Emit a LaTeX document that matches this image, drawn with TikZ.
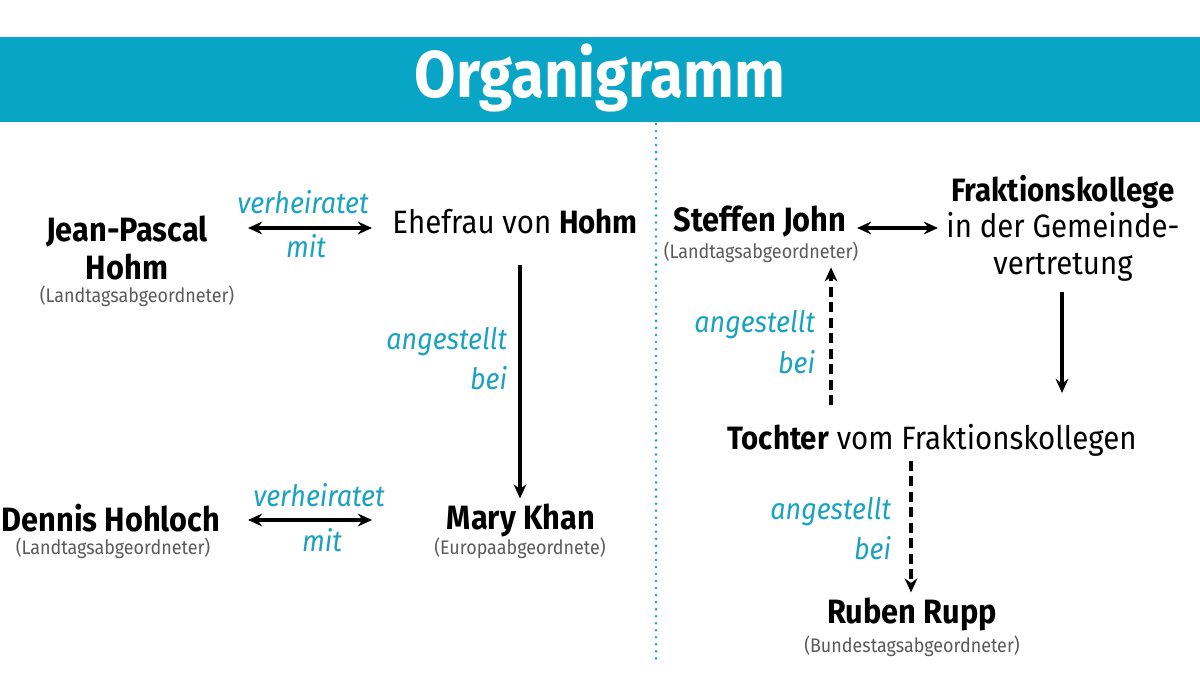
\documentclass[tikz,border=0pt]{standalone}
\usepackage{fontspec}
\setmainfont{Fira Sans}[FakeStretch=0.91]
\usepackage{tikz}
\usetikzlibrary{arrows.meta}
\definecolor{orgaBlue}{HTML}{08A5C6}
\definecolor{orgaText}{HTML}{1BA2C0}
\definecolor{orgaGray}{HTML}{5A5A5A}

\begin{document}
\begin{tikzpicture}[x=0.025cm, y=-0.025cm,
    person/.style={font=\fontsize{24}{27}\selectfont\bfseries, align=center},
    plain/.style={font=\fontsize{23}{27}\selectfont, align=center},
    office/.style={font=\fontsize{14}{16}\selectfont, text=orgaGray},
    relation/.style={font=\fontsize{21}{25}\selectfont\itshape, text=orgaText},
    link/.style={line width=2.5pt, -{Stealth[length=10pt,width=9pt]}},
    both/.style={line width=2.5pt, {Stealth[length=10pt,width=9pt]}-{Stealth[length=10pt,width=9pt]}},
    loose/.style={line width=2.5pt, dash pattern=on 7pt off 4pt, -{Stealth[length=10pt,width=9pt]}}]
    \useasboundingbox (0,0) rectangle (1200,675);
    \fill[orgaBlue] (0,37) rectangle (1200,122);
    \node[font=\fontsize{47}{50}\selectfont\bfseries, text=white] (title) at (600,78) {Organigramm};
    \draw[orgaBlue, line width=2pt, line cap=round, dash pattern=on 0pt off 5pt] (656,124) -- (656,660);
    % linke Seite
    \node[person] (jp) at (127,248) {Jean-Pascal\\Hohm};
    \node[office] (jpsub) at (137,296) {(Landtagsabgeordneter)};
    \node[plain] (wife) at (515,222) {Ehefrau von \textbf{Hohm}};
    \node[person] (mk) at (521,520) {Mary Khan};
    \node[office] (mksub) at (520,548) {(Europaabgeordnete)};
    \node[person] (dh) at (111,518) {Dennis Hohloch};
    \node[office] (dhsub) at (113,548) {(Landtagsabgeordneter)};
    \coordinate (jpr) at (248,228);
    \coordinate (wifel) at (372,228);
    \draw[both] (jpr) -- (wifel);
    \node[relation] at (303,202) {verheiratet};
    \node[relation] at (306,246) {mit};
    \coordinate (dhr) at (248,520);
    \coordinate (mkl) at (372,520);
    \draw[both] (dhr) -- (mkl);
    \node[relation] at (319,495) {verheiratet};
    \node[relation] at (322,540) {mit};
    \draw[link] (520,265) -- (mk.north -| 520,0);
    \node[relation, anchor=east] at (512,342) {angestellt};
    \node[relation, anchor=east] at (512,378) {bei};
    % rechte Seite
    \node[person] (sj) at (760,222) {Steffen John};
    \node[office] (sjsub) at (761,252) {(Landtagsabgeordneter)};
    \node[plain] (fk) at (1063,228) {\textbf{Fraktionskollege}\\[-1pt]in der Gemeinde-\\[-1pt]vertretung};
    \node[plain] (tochter) at (932,440) {\textbf{Tochter} vom Fraktionskollegen};
    \node[person] (rr) at (912,614) {Ruben Rupp};
    \node[office] (rrsub) at (912,646) {(Bundestagsabgeordneter)};
    \coordinate (sjr) at (857,228);
    \coordinate (fkl) at (938,228);
    \draw[both] (sjr) -- (fkl);
    \draw[link] (fk.south -| 1062,0) ++(0,6) -- (1062,393);
    \draw[loose] (831,405) -- (sjsub.south -| 831,0);
    \node[relation, anchor=east] at (820,325) {angestellt};
    \node[relation, anchor=east] at (820,362) {bei};
    \draw[loose] (tochter.south -| 911,0) -- (rr.north -| 911,0);
    \node[relation, anchor=east] at (896,512) {angestellt};
    \node[relation, anchor=east] at (896,548) {bei};
\end{tikzpicture}
\end{document}
